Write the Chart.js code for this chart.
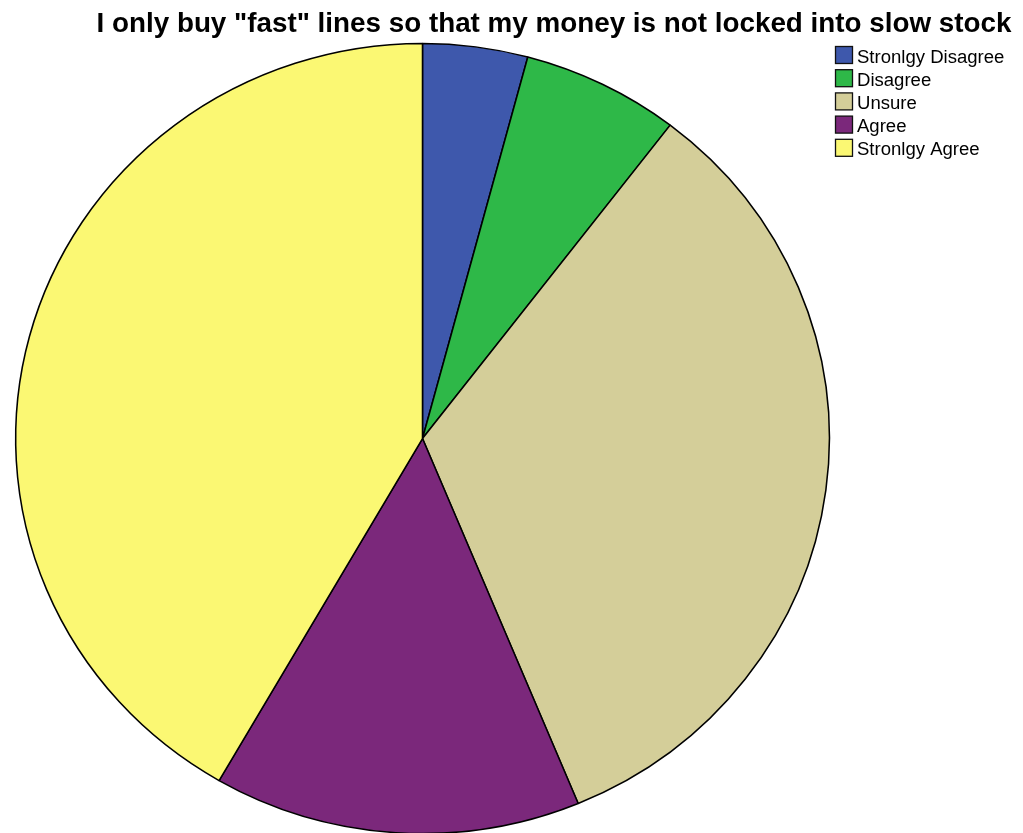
<!DOCTYPE html>
<html>
<head>
<meta charset="utf-8">
<script src="https://cdn.jsdelivr.net/npm/chart.js@4/dist/chart.umd.min.js"></script>
<style>
  html, body { margin: 0; padding: 0; background: #fff; }
  #wrap { position: relative; width: 1023px; height: 833px; }
</style>
</head>
<body>
<div id="wrap"><canvas id="pie"></canvas></div>
<script>
// Survey responses
const titleText = 'I only buy "fast" lines so that my money is not locked into slow stock';
const categories = ['Stronlgy Disagree', 'Disagree', 'Unsure', 'Agree', 'Stronlgy Agree'];
const counts = [2, 3, 16, 7, 20];
const sliceColors = ['#3E58AC', '#2EB848', '#D4CE99', '#7B287B', '#FBF873'];

// Horizontal stretch: the whole figure is drawn slightly wider than tall
const STRETCH_X = 1.03;

function stretchAround(ctx, cx) {
  ctx.translate(cx, 0);
  ctx.scale(STRETCH_X, 1);
  ctx.translate(-cx, 0);
}

const ellipsePlugin = {
  id: 'ellipse',
  beforeDatasetsDraw(chart) {
    const a = chart.chartArea;
    chart.ctx.save();
    stretchAround(chart.ctx, (a.left + a.right) / 2);
  },
  afterDatasetsDraw(chart) {
    chart.ctx.restore();
  }
};

// Title and legend drawn on the canvas at fixed spots
const decorPlugin = {
  id: 'decor',
  afterDraw(chart) {
    const ctx = chart.ctx;

    ctx.save();
    stretchAround(ctx, 554);
    ctx.fillStyle = '#000';
    ctx.font = 'bold 27px "Liberation Sans", Arial, sans-serif';
    ctx.textAlign = 'center';
    ctx.textBaseline = 'alphabetic';
    ctx.fillText(titleText, 554, 32);
    ctx.restore();

    ctx.save();
    ctx.font = '18px "Liberation Sans", Arial, sans-serif';
    ctx.textAlign = 'left';
    ctx.textBaseline = 'alphabetic';
    const boxX = 835.5, boxTop = 46.5, step = 23.2, box = 17, textX = 857;
    chart.data.labels.forEach((lab, i) => {
      const y = boxTop + i * step;
      ctx.fillStyle = chart.data.datasets[0].backgroundColor[i];
      ctx.fillRect(boxX, y, box, box);
      ctx.strokeStyle = '#111';
      ctx.lineWidth = 1.3;
      ctx.strokeRect(boxX, y, box, box);
      ctx.save();
      stretchAround(ctx, textX);
      ctx.fillStyle = '#000';
      ctx.fillText(lab, textX, y + 16);
      ctx.restore();
    });
    ctx.restore();
  }
};

new Chart(document.getElementById('pie'), {
  type: 'pie',
  data: {
    labels: categories,
    datasets: [{
      data: counts,
      backgroundColor: sliceColors,
      borderColor: '#000',
      borderWidth: 1.5,
      radius: 395,
      clip: false
    }]
  },
  options: {
    responsive: true,
    maintainAspectRatio: false,
    animation: false,
    layout: { padding: { top: 44, bottom: 0, left: 28, right: 206 } },
    plugins: {
      legend: { display: false },
      title: { display: false },
      tooltip: { enabled: false }
    }
  },
  plugins: [ellipsePlugin, decorPlugin]
});
</script>
</body>
</html>
